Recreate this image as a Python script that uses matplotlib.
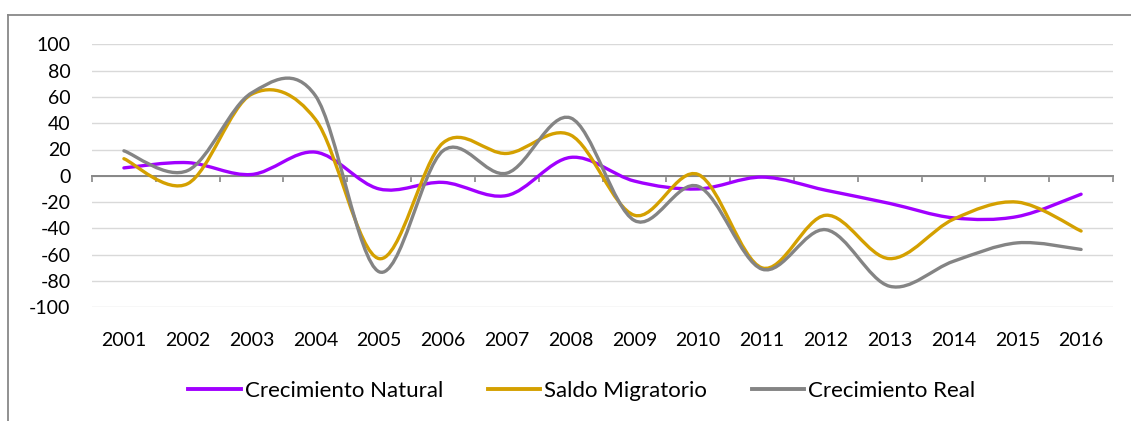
import matplotlib.pyplot as plt
from matplotlib.path import Path
from matplotlib.patches import PathPatch
from matplotlib.lines import Line2D
import numpy as np

years = ['2001', '2002', '2003', '2004', '2005', '2006', '2007', '2008',
         '2009', '2010', '2011', '2012', '2013', '2014', '2015', '2016']
natural = [6, 10, 1, 18, -10, -5, -15, 14, -4, -10, -1, -11, -21, -32, -31, -14]
migratorio = [13, -6, 62, 43, -63, 25, 17, 31, -30, 1, -70, -30, -63, -33, -20, -42]
real = [19, 4, 63, 61, -73, 19, 2, 44, -34, -8, -71, -41, -84, -65, -51, -56]

names = ['Crecimiento Natural', 'Saldo Migratorio', 'Crecimiento Real']
colors = ['#A100FF', '#D4A000', '#848484']

plt.rcParams['font.family'] = ['Lato', 'DejaVu Sans']
plt.rcParams['axes.unicode_minus'] = False


def smooth_path(xs, ys):
    # excel style smoothed line: bezier through every point
    pts = np.column_stack([xs, ys]).astype(float)
    n = len(pts)
    verts = [pts[0]]
    codes = [Path.MOVETO]
    for i in range(n - 1):
        p0 = pts[i - 1] if i > 0 else pts[i]
        p1 = pts[i]
        p2 = pts[i + 1]
        p3 = pts[i + 2] if i + 2 < n else pts[i + 1]
        verts += [p1 + (p2 - p0) / 6, p2 - (p3 - p1) / 6, p2]
        codes += [Path.CURVE4] * 3
    return Path(verts, codes)


fig = plt.figure(figsize=(11.31, 4.21), dpi=100)
ax = fig.add_axes([92 / 1131, (421 - 307.3) / 421, (1113 - 92) / 1131, 263 / 421])

x = np.arange(len(years))
for vals, col in zip([natural, migratorio, real], colors):
    ax.add_patch(PathPatch(smooth_path(x, vals), fill=False, edgecolor=col,
                           lw=2.4, capstyle='round', zorder=3))

ax.set_xlim(-0.5, len(years) - 0.5)
ax.set_ylim(-100, 100)
ax.set_yticks(range(-100, 101, 20))
ax.grid(axis='y', color='#D9D9D9', lw=1.0)
ax.set_axisbelow(True)
for s in ['top', 'right', 'left']:
    ax.spines[s].set_visible(False)
ax.spines['bottom'].set_position(('data', 0))
ax.spines['bottom'].set_color('#868686')
ax.spines['bottom'].set_linewidth(1.4)
ax.set_xticks(np.arange(-0.5, len(years), 1.0))
ax.tick_params(axis='x', direction='out', length=4.5, width=1.2, color='#868686',
               labelbottom=False)
ax.tick_params(axis='y', length=0, pad=15.5, labelsize=14, labelcolor='black')

sec = ax.secondary_xaxis('bottom')
sec.set_xticks(x)
sec.set_xticklabels(years)
sec.spines['bottom'].set_visible(False)
sec.tick_params(length=0, pad=17.5, labelsize=14)

handles = [Line2D([], [], color=c, lw=2.8) for c in colors]
fig.legend(handles, names, loc='center', bbox_to_anchor=(0.5146, 0.0713), ncol=3,
           frameon=False, fontsize=16, handlelength=2.35, handletextpad=0.2,
           columnspacing=2.0)

# outer chart frame (cropped)
fig.add_artist(Line2D([8.3 / 1131, 8.3 / 1131], [0, 1 - 15 / 421], color='#888888', lw=1.3))
fig.add_artist(Line2D([8.3 / 1131, 1], [1 - 15 / 421, 1 - 15 / 421], color='#888888', lw=1.3))

fig.savefig('out.png', dpi=100)
